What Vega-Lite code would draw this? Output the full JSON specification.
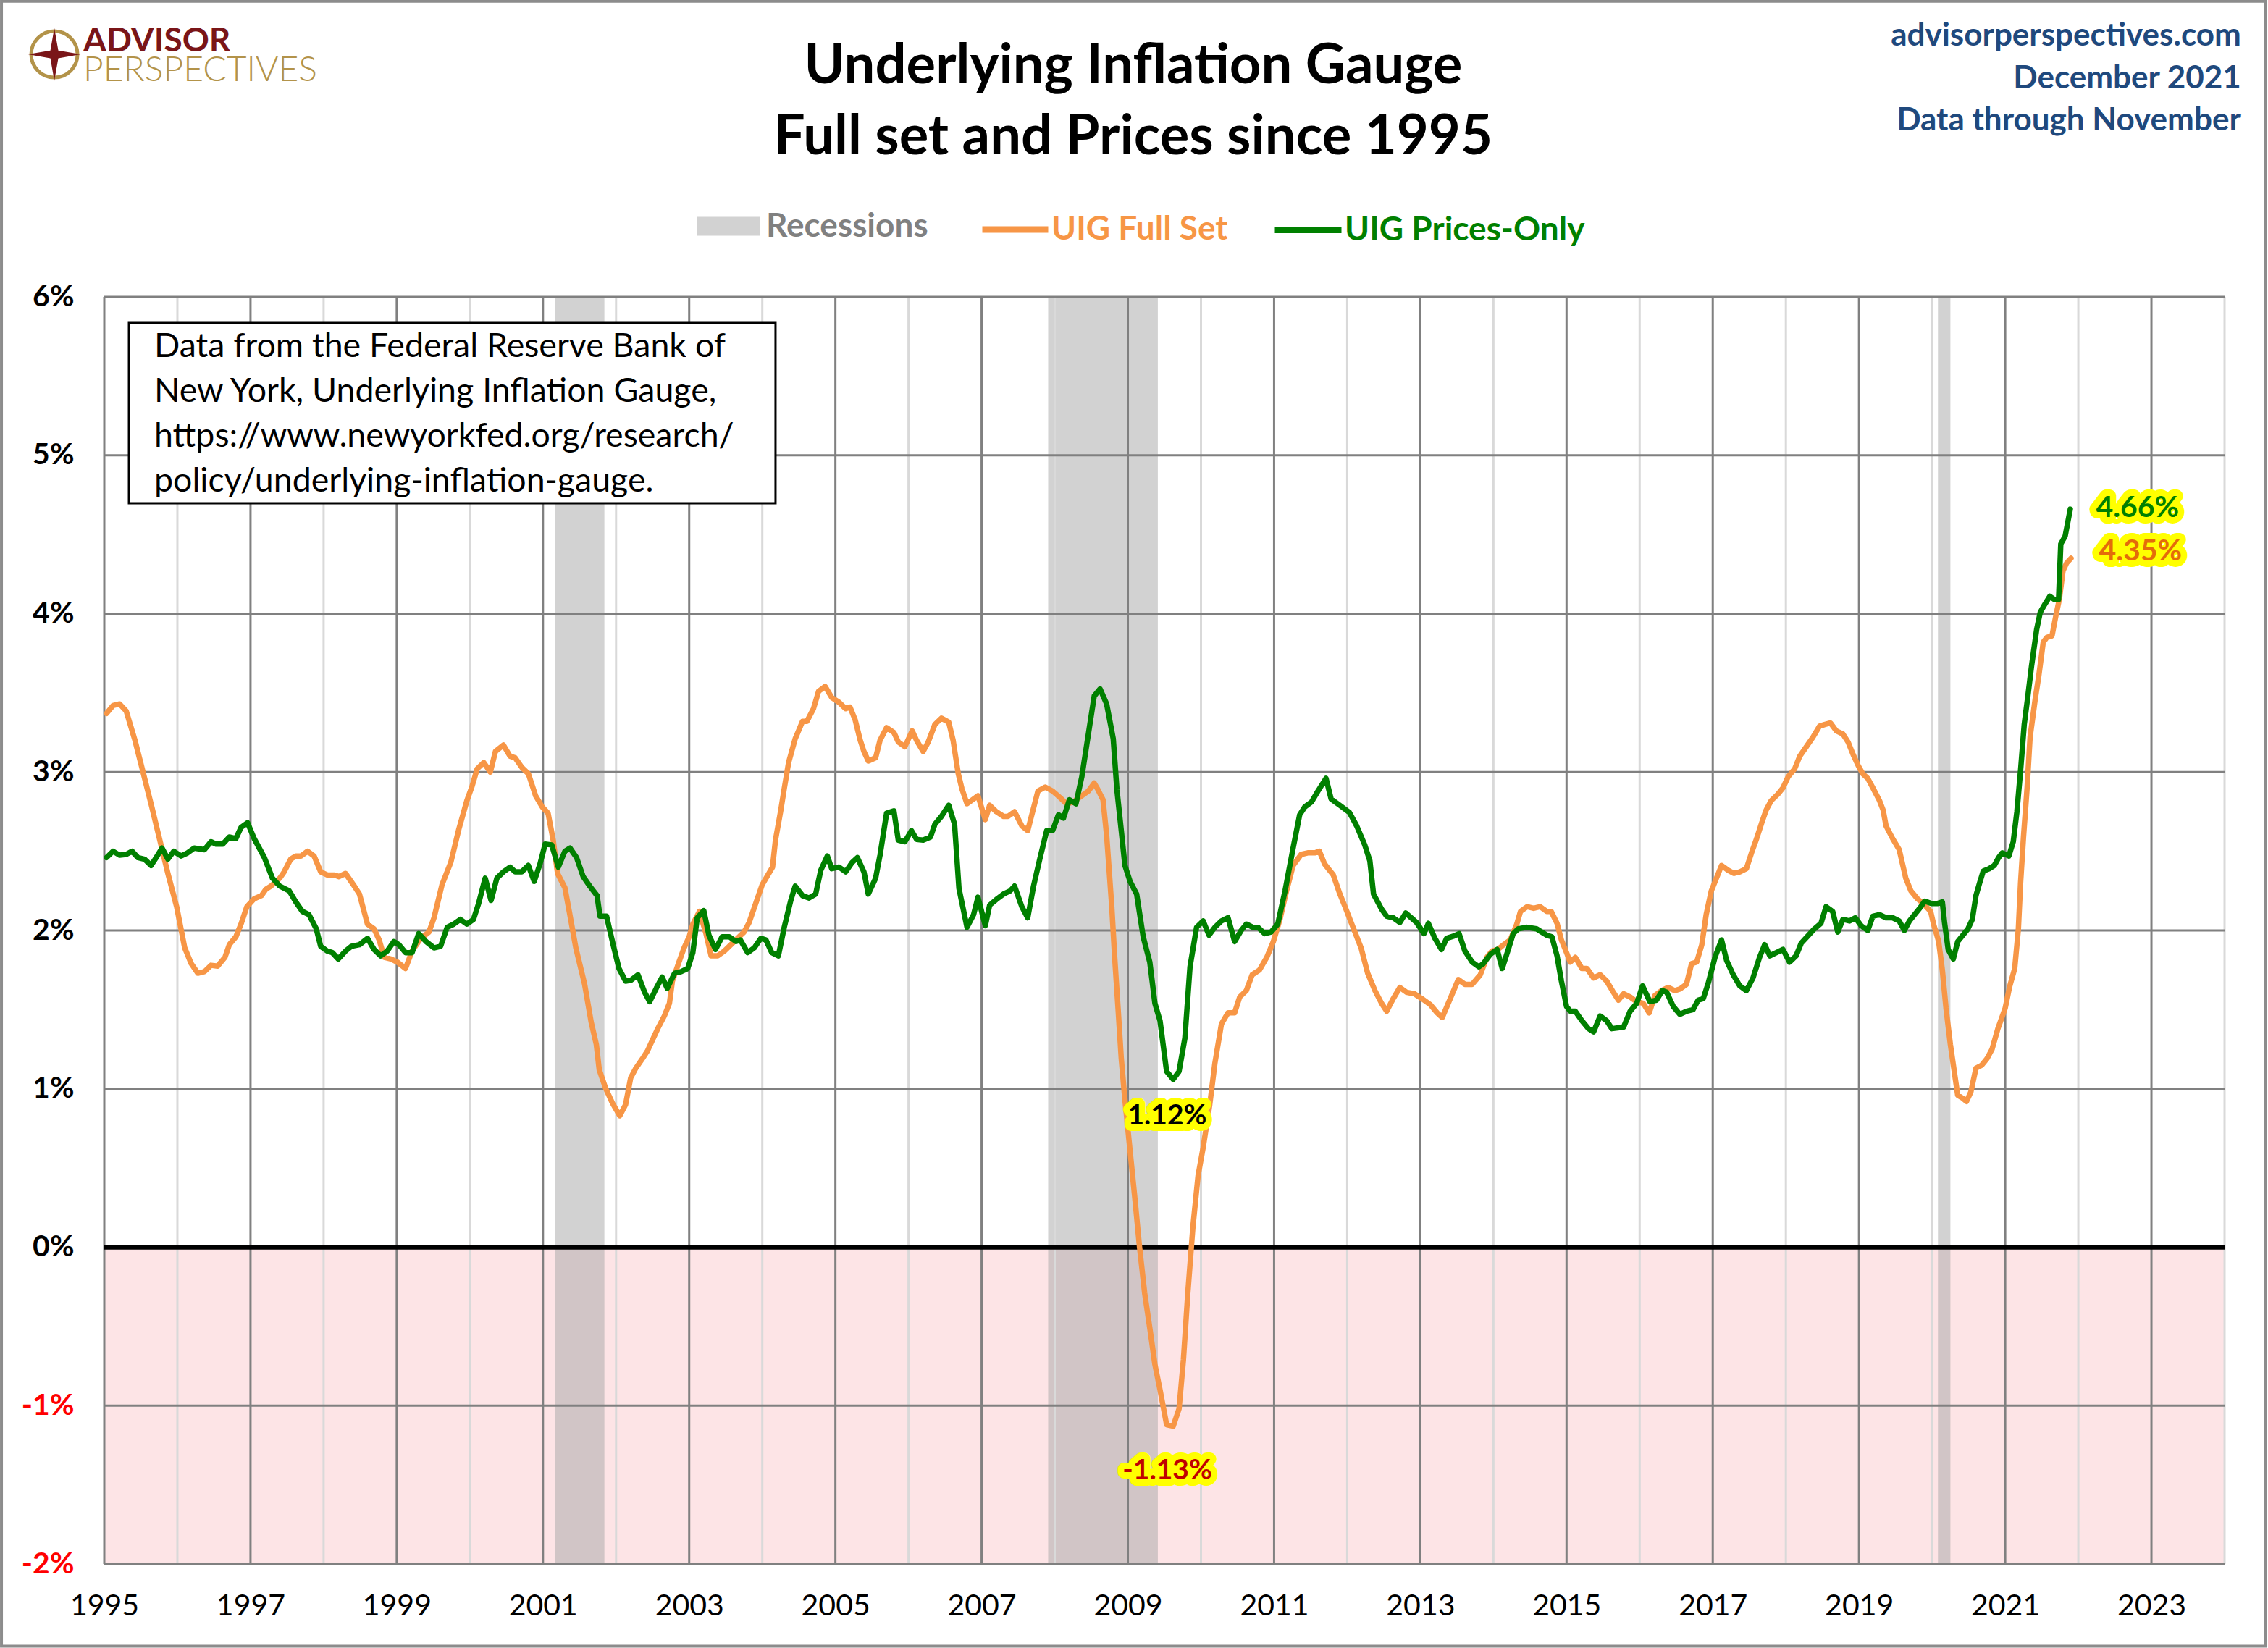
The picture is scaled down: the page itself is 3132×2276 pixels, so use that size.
{
  "$schema": "https://vega.github.io/schema/vega-lite/v6.json",
  "width": 2928,
  "height": 1750,
  "autosize": "none",
  "padding": {"left": 144, "top": 410, "right": 60, "bottom": 116},
  "background": "white",
  "config": {"view": {"stroke": null}, "font": "Lato"},
  "data": {"values": [{}]},
  "datasets": {
    "recessions": [
      {"start": 2001.17, "end": 2001.84},
      {"start": 2007.91, "end": 2009.41},
      {"start": 2020.08, "end": 2020.25}
    ],
    "gridYears": [
      {"year": 1995, "major": true}, {"year": 1996, "major": false}, {"year": 1997, "major": true}, {"year": 1998, "major": false},
      {"year": 1999, "major": true}, {"year": 2000, "major": false}, {"year": 2001, "major": true}, {"year": 2002, "major": false},
      {"year": 2003, "major": true}, {"year": 2004, "major": false}, {"year": 2005, "major": true}, {"year": 2006, "major": false},
      {"year": 2007, "major": true}, {"year": 2008, "major": false}, {"year": 2009, "major": true}, {"year": 2010, "major": false},
      {"year": 2011, "major": true}, {"year": 2012, "major": false}, {"year": 2013, "major": true}, {"year": 2014, "major": false},
      {"year": 2015, "major": true}, {"year": 2016, "major": false}, {"year": 2017, "major": true}, {"year": 2018, "major": false},
      {"year": 2019, "major": true}, {"year": 2020, "major": false}, {"year": 2021, "major": true}, {"year": 2022, "major": false},
      {"year": 2023, "major": true}, {"year": 2024, "major": false}
    ],
    "gridLevels": [
      {"level": -2}, {"level": -1}, {"level": 1}, {"level": 2}, {"level": 3}, {"level": 4}, {"level": 5}, {"level": 6}
    ],
    "fullSet": [
      {"year": 1995.03, "value": 3.37}, {"year": 1995.12, "value": 3.42}, {"year": 1995.21, "value": 3.43}, {"year": 1995.30, "value": 3.385},
      {"year": 1995.42, "value": 3.20}, {"year": 1995.53, "value": 3.00}, {"year": 1995.65, "value": 2.78}, {"year": 1995.76, "value": 2.57},
      {"year": 1995.87, "value": 2.36}, {"year": 1995.99, "value": 2.15}, {"year": 1996.10, "value": 1.89}, {"year": 1996.19, "value": 1.79},
      {"year": 1996.28, "value": 1.73}, {"year": 1996.37, "value": 1.74}, {"year": 1996.46, "value": 1.78}, {"year": 1996.55, "value": 1.775},
      {"year": 1996.65, "value": 1.83}, {"year": 1996.71, "value": 1.91}, {"year": 1996.80, "value": 1.96}, {"year": 1996.87, "value": 2.04},
      {"year": 1996.95, "value": 2.15}, {"year": 1997.05, "value": 2.20}, {"year": 1997.15, "value": 2.22}, {"year": 1997.21, "value": 2.26},
      {"year": 1997.28, "value": 2.28}, {"year": 1997.40, "value": 2.33}, {"year": 1997.46, "value": 2.37}, {"year": 1997.55, "value": 2.45},
      {"year": 1997.62, "value": 2.47}, {"year": 1997.69, "value": 2.47}, {"year": 1997.78, "value": 2.50}, {"year": 1997.87, "value": 2.47},
      {"year": 1997.96, "value": 2.37}, {"year": 1998.05, "value": 2.35}, {"year": 1998.15, "value": 2.35}, {"year": 1998.21, "value": 2.34},
      {"year": 1998.30, "value": 2.36}, {"year": 1998.42, "value": 2.28}, {"year": 1998.49, "value": 2.23}, {"year": 1998.60, "value": 2.04},
      {"year": 1998.69, "value": 2.01}, {"year": 1998.76, "value": 1.94}, {"year": 1998.83, "value": 1.83}, {"year": 1998.92, "value": 1.82},
      {"year": 1999.01, "value": 1.80}, {"year": 1999.12, "value": 1.76}, {"year": 1999.21, "value": 1.87}, {"year": 1999.33, "value": 1.95},
      {"year": 1999.44, "value": 1.99}, {"year": 1999.51, "value": 2.08}, {"year": 1999.62, "value": 2.29}, {"year": 1999.74, "value": 2.43},
      {"year": 1999.85, "value": 2.64}, {"year": 1999.96, "value": 2.82}, {"year": 2000.03, "value": 2.91}, {"year": 2000.10, "value": 3.02},
      {"year": 2000.19, "value": 3.06}, {"year": 2000.28, "value": 3.00}, {"year": 2000.35, "value": 3.13}, {"year": 2000.46, "value": 3.17},
      {"year": 2000.55, "value": 3.10}, {"year": 2000.62, "value": 3.09}, {"year": 2000.71, "value": 3.03}, {"year": 2000.80, "value": 2.99},
      {"year": 2000.90, "value": 2.85}, {"year": 2000.99, "value": 2.78}, {"year": 2001.07, "value": 2.74}, {"year": 2001.14, "value": 2.57},
      {"year": 2001.20, "value": 2.36}, {"year": 2001.30, "value": 2.27}, {"year": 2001.36, "value": 2.12}, {"year": 2001.45, "value": 1.89},
      {"year": 2001.57, "value": 1.66}, {"year": 2001.66, "value": 1.42}, {"year": 2001.73, "value": 1.28}, {"year": 2001.77, "value": 1.12},
      {"year": 2001.86, "value": 1.00}, {"year": 2001.95, "value": 0.91}, {"year": 2002.05, "value": 0.83}, {"year": 2002.13, "value": 0.90},
      {"year": 2002.20, "value": 1.07}, {"year": 2002.27, "value": 1.13}, {"year": 2002.36, "value": 1.19}, {"year": 2002.43, "value": 1.24},
      {"year": 2002.50, "value": 1.31}, {"year": 2002.57, "value": 1.38}, {"year": 2002.66, "value": 1.46}, {"year": 2002.73, "value": 1.54},
      {"year": 2002.77, "value": 1.68}, {"year": 2002.86, "value": 1.80}, {"year": 2002.93, "value": 1.89}, {"year": 2003.00, "value": 1.96},
      {"year": 2003.05, "value": 2.04}, {"year": 2003.14, "value": 2.12}, {"year": 2003.23, "value": 1.98}, {"year": 2003.30, "value": 1.84},
      {"year": 2003.39, "value": 1.84}, {"year": 2003.48, "value": 1.87}, {"year": 2003.57, "value": 1.91}, {"year": 2003.66, "value": 1.95},
      {"year": 2003.75, "value": 1.99}, {"year": 2003.82, "value": 2.05}, {"year": 2003.91, "value": 2.17}, {"year": 2004.00, "value": 2.29},
      {"year": 2004.14, "value": 2.40}, {"year": 2004.18, "value": 2.57}, {"year": 2004.25, "value": 2.75}, {"year": 2004.30, "value": 2.895},
      {"year": 2004.36, "value": 3.06}, {"year": 2004.45, "value": 3.21}, {"year": 2004.55, "value": 3.32}, {"year": 2004.61, "value": 3.32},
      {"year": 2004.70, "value": 3.40}, {"year": 2004.77, "value": 3.51}, {"year": 2004.86, "value": 3.54}, {"year": 2004.95, "value": 3.47},
      {"year": 2005.05, "value": 3.44}, {"year": 2005.14, "value": 3.40}, {"year": 2005.20, "value": 3.41}, {"year": 2005.27, "value": 3.33},
      {"year": 2005.34, "value": 3.20}, {"year": 2005.39, "value": 3.13}, {"year": 2005.45, "value": 3.07}, {"year": 2005.55, "value": 3.09},
      {"year": 2005.61, "value": 3.20}, {"year": 2005.70, "value": 3.28}, {"year": 2005.80, "value": 3.25}, {"year": 2005.86, "value": 3.19},
      {"year": 2005.95, "value": 3.16}, {"year": 2006.05, "value": 3.26}, {"year": 2006.11, "value": 3.20}, {"year": 2006.20, "value": 3.13},
      {"year": 2006.27, "value": 3.19}, {"year": 2006.36, "value": 3.30}, {"year": 2006.45, "value": 3.34}, {"year": 2006.55, "value": 3.315},
      {"year": 2006.61, "value": 3.20}, {"year": 2006.68, "value": 2.99}, {"year": 2006.73, "value": 2.895}, {"year": 2006.80, "value": 2.80},
      {"year": 2006.95, "value": 2.85}, {"year": 2007.05, "value": 2.70}, {"year": 2007.11, "value": 2.79}, {"year": 2007.20, "value": 2.75},
      {"year": 2007.30, "value": 2.72}, {"year": 2007.36, "value": 2.72}, {"year": 2007.45, "value": 2.75}, {"year": 2007.55, "value": 2.66},
      {"year": 2007.63, "value": 2.63}, {"year": 2007.70, "value": 2.755}, {"year": 2007.77, "value": 2.88}, {"year": 2007.87, "value": 2.905},
      {"year": 2007.97, "value": 2.88}, {"year": 2008.07, "value": 2.84}, {"year": 2008.16, "value": 2.80}, {"year": 2008.25, "value": 2.81},
      {"year": 2008.37, "value": 2.85}, {"year": 2008.46, "value": 2.88}, {"year": 2008.54, "value": 2.93}, {"year": 2008.59, "value": 2.89},
      {"year": 2008.66, "value": 2.825}, {"year": 2008.71, "value": 2.60}, {"year": 2008.78, "value": 2.15}, {"year": 2008.82, "value": 1.83},
      {"year": 2008.87, "value": 1.48}, {"year": 2008.91, "value": 1.19}, {"year": 2008.96, "value": 0.93}, {"year": 2009.03, "value": 0.61},
      {"year": 2009.10, "value": 0.29}, {"year": 2009.16, "value": 0.00}, {"year": 2009.23, "value": -0.29}, {"year": 2009.30, "value": -0.51},
      {"year": 2009.37, "value": -0.74}, {"year": 2009.44, "value": -0.90}, {"year": 2009.53, "value": -1.12}, {"year": 2009.62, "value": -1.13},
      {"year": 2009.70, "value": -1.02}, {"year": 2009.76, "value": -0.71}, {"year": 2009.82, "value": -0.29}, {"year": 2009.89, "value": 0.13},
      {"year": 2009.96, "value": 0.45}, {"year": 2010.03, "value": 0.63}, {"year": 2010.12, "value": 0.90}, {"year": 2010.19, "value": 1.16},
      {"year": 2010.28, "value": 1.41}, {"year": 2010.37, "value": 1.48}, {"year": 2010.46, "value": 1.48}, {"year": 2010.53, "value": 1.58},
      {"year": 2010.62, "value": 1.62}, {"year": 2010.70, "value": 1.72}, {"year": 2010.80, "value": 1.75}, {"year": 2010.90, "value": 1.83},
      {"year": 2010.99, "value": 1.93}, {"year": 2011.08, "value": 2.07}, {"year": 2011.17, "value": 2.25}, {"year": 2011.26, "value": 2.41},
      {"year": 2011.37, "value": 2.48}, {"year": 2011.46, "value": 2.49}, {"year": 2011.56, "value": 2.49}, {"year": 2011.62, "value": 2.50},
      {"year": 2011.69, "value": 2.42}, {"year": 2011.81, "value": 2.35}, {"year": 2011.90, "value": 2.23}, {"year": 2011.97, "value": 2.15},
      {"year": 2012.08, "value": 2.02}, {"year": 2012.19, "value": 1.89}, {"year": 2012.28, "value": 1.73}, {"year": 2012.38, "value": 1.62},
      {"year": 2012.47, "value": 1.54}, {"year": 2012.54, "value": 1.49}, {"year": 2012.63, "value": 1.57}, {"year": 2012.72, "value": 1.64},
      {"year": 2012.81, "value": 1.61}, {"year": 2012.92, "value": 1.60}, {"year": 2013.02, "value": 1.57}, {"year": 2013.14, "value": 1.53},
      {"year": 2013.23, "value": 1.48}, {"year": 2013.30, "value": 1.45}, {"year": 2013.41, "value": 1.57}, {"year": 2013.52, "value": 1.69},
      {"year": 2013.61, "value": 1.66}, {"year": 2013.71, "value": 1.66}, {"year": 2013.82, "value": 1.72}, {"year": 2013.91, "value": 1.83},
      {"year": 2013.98, "value": 1.87}, {"year": 2014.06, "value": 1.88}, {"year": 2014.14, "value": 1.91}, {"year": 2014.23, "value": 1.94},
      {"year": 2014.32, "value": 2.04}, {"year": 2014.37, "value": 2.12}, {"year": 2014.46, "value": 2.15}, {"year": 2014.55, "value": 2.14},
      {"year": 2014.64, "value": 2.15}, {"year": 2014.73, "value": 2.12}, {"year": 2014.79, "value": 2.12}, {"year": 2014.87, "value": 2.045},
      {"year": 2014.93, "value": 1.94}, {"year": 2015.00, "value": 1.86}, {"year": 2015.05, "value": 1.80}, {"year": 2015.12, "value": 1.83},
      {"year": 2015.21, "value": 1.76}, {"year": 2015.28, "value": 1.76}, {"year": 2015.37, "value": 1.70}, {"year": 2015.46, "value": 1.72},
      {"year": 2015.55, "value": 1.68}, {"year": 2015.64, "value": 1.61}, {"year": 2015.71, "value": 1.56}, {"year": 2015.78, "value": 1.60},
      {"year": 2015.87, "value": 1.58}, {"year": 2015.96, "value": 1.55}, {"year": 2016.05, "value": 1.54}, {"year": 2016.13, "value": 1.48},
      {"year": 2016.21, "value": 1.59}, {"year": 2016.30, "value": 1.62}, {"year": 2016.39, "value": 1.64}, {"year": 2016.48, "value": 1.62},
      {"year": 2016.55, "value": 1.63}, {"year": 2016.64, "value": 1.66}, {"year": 2016.71, "value": 1.79}, {"year": 2016.78, "value": 1.80},
      {"year": 2016.85, "value": 1.91}, {"year": 2016.91, "value": 2.10}, {"year": 2016.98, "value": 2.25}, {"year": 2017.05, "value": 2.33},
      {"year": 2017.12, "value": 2.41}, {"year": 2017.21, "value": 2.38}, {"year": 2017.29, "value": 2.36}, {"year": 2017.37, "value": 2.37},
      {"year": 2017.46, "value": 2.39}, {"year": 2017.53, "value": 2.49}, {"year": 2017.60, "value": 2.58}, {"year": 2017.67, "value": 2.68},
      {"year": 2017.73, "value": 2.76}, {"year": 2017.80, "value": 2.82}, {"year": 2017.89, "value": 2.86}, {"year": 2017.96, "value": 2.90},
      {"year": 2018.03, "value": 2.97}, {"year": 2018.12, "value": 3.02}, {"year": 2018.19, "value": 3.10}, {"year": 2018.28, "value": 3.16},
      {"year": 2018.37, "value": 3.22}, {"year": 2018.46, "value": 3.29}, {"year": 2018.53, "value": 3.30}, {"year": 2018.61, "value": 3.31},
      {"year": 2018.69, "value": 3.26}, {"year": 2018.78, "value": 3.24}, {"year": 2018.85, "value": 3.19}, {"year": 2018.92, "value": 3.11},
      {"year": 2018.99, "value": 3.04}, {"year": 2019.05, "value": 2.99}, {"year": 2019.12, "value": 2.96}, {"year": 2019.19, "value": 2.90},
      {"year": 2019.28, "value": 2.82}, {"year": 2019.33, "value": 2.76}, {"year": 2019.37, "value": 2.66}, {"year": 2019.46, "value": 2.58},
      {"year": 2019.55, "value": 2.51}, {"year": 2019.60, "value": 2.41}, {"year": 2019.64, "value": 2.33}, {"year": 2019.71, "value": 2.25},
      {"year": 2019.80, "value": 2.20}, {"year": 2019.89, "value": 2.165}, {"year": 2019.98, "value": 2.12}, {"year": 2020.02, "value": 2.04},
      {"year": 2020.09, "value": 1.93}, {"year": 2020.14, "value": 1.75}, {"year": 2020.19, "value": 1.51}, {"year": 2020.25, "value": 1.28},
      {"year": 2020.30, "value": 1.12}, {"year": 2020.35, "value": 0.96}, {"year": 2020.42, "value": 0.94}, {"year": 2020.47, "value": 0.92},
      {"year": 2020.53, "value": 0.98}, {"year": 2020.60, "value": 1.13}, {"year": 2020.68, "value": 1.15}, {"year": 2020.75, "value": 1.19},
      {"year": 2020.82, "value": 1.25}, {"year": 2020.90, "value": 1.38}, {"year": 2021.00, "value": 1.51}, {"year": 2021.06, "value": 1.645},
      {"year": 2021.13, "value": 1.76}, {"year": 2021.18, "value": 2.01}, {"year": 2021.21, "value": 2.30}, {"year": 2021.25, "value": 2.59},
      {"year": 2021.30, "value": 2.905}, {"year": 2021.34, "value": 3.22}, {"year": 2021.41, "value": 3.46}, {"year": 2021.46, "value": 3.61},
      {"year": 2021.52, "value": 3.82}, {"year": 2021.57, "value": 3.85}, {"year": 2021.64, "value": 3.86}, {"year": 2021.69, "value": 3.98},
      {"year": 2021.74, "value": 4.09}, {"year": 2021.79, "value": 4.27}, {"year": 2021.84, "value": 4.32}, {"year": 2021.90, "value": 4.35}
    ],
    "pricesOnly": [
      {"year": 1995.03, "value": 2.46}, {"year": 1995.12, "value": 2.50}, {"year": 1995.21, "value": 2.475}, {"year": 1995.30, "value": 2.48},
      {"year": 1995.38, "value": 2.50}, {"year": 1995.46, "value": 2.46}, {"year": 1995.55, "value": 2.45}, {"year": 1995.64, "value": 2.41},
      {"year": 1995.71, "value": 2.46}, {"year": 1995.79, "value": 2.52}, {"year": 1995.87, "value": 2.45}, {"year": 1995.95, "value": 2.50},
      {"year": 1996.05, "value": 2.47}, {"year": 1996.14, "value": 2.49}, {"year": 1996.23, "value": 2.52}, {"year": 1996.37, "value": 2.51},
      {"year": 1996.46, "value": 2.56}, {"year": 1996.53, "value": 2.545}, {"year": 1996.62, "value": 2.545}, {"year": 1996.71, "value": 2.59},
      {"year": 1996.80, "value": 2.58}, {"year": 1996.87, "value": 2.65}, {"year": 1996.96, "value": 2.68}, {"year": 1997.05, "value": 2.58},
      {"year": 1997.19, "value": 2.46}, {"year": 1997.30, "value": 2.33}, {"year": 1997.40, "value": 2.28}, {"year": 1997.53, "value": 2.25},
      {"year": 1997.62, "value": 2.18}, {"year": 1997.71, "value": 2.12}, {"year": 1997.80, "value": 2.10}, {"year": 1997.90, "value": 2.01},
      {"year": 1997.96, "value": 1.90}, {"year": 1998.05, "value": 1.87}, {"year": 1998.12, "value": 1.86}, {"year": 1998.20, "value": 1.82},
      {"year": 1998.30, "value": 1.87}, {"year": 1998.38, "value": 1.90}, {"year": 1998.49, "value": 1.91}, {"year": 1998.60, "value": 1.95},
      {"year": 1998.69, "value": 1.88}, {"year": 1998.78, "value": 1.84}, {"year": 1998.87, "value": 1.87}, {"year": 1998.96, "value": 1.93},
      {"year": 1999.03, "value": 1.91}, {"year": 1999.12, "value": 1.86}, {"year": 1999.21, "value": 1.86}, {"year": 1999.30, "value": 1.98},
      {"year": 1999.40, "value": 1.93}, {"year": 1999.51, "value": 1.89}, {"year": 1999.60, "value": 1.90}, {"year": 1999.69, "value": 2.02},
      {"year": 1999.78, "value": 2.04}, {"year": 1999.87, "value": 2.07}, {"year": 1999.96, "value": 2.04}, {"year": 2000.05, "value": 2.07},
      {"year": 2000.12, "value": 2.17}, {"year": 2000.21, "value": 2.33}, {"year": 2000.29, "value": 2.19}, {"year": 2000.37, "value": 2.33},
      {"year": 2000.46, "value": 2.37}, {"year": 2000.55, "value": 2.40}, {"year": 2000.62, "value": 2.37}, {"year": 2000.71, "value": 2.37},
      {"year": 2000.80, "value": 2.41}, {"year": 2000.88, "value": 2.31}, {"year": 2000.96, "value": 2.42}, {"year": 2001.03, "value": 2.545},
      {"year": 2001.12, "value": 2.54}, {"year": 2001.21, "value": 2.40}, {"year": 2001.30, "value": 2.50}, {"year": 2001.37, "value": 2.52},
      {"year": 2001.46, "value": 2.46}, {"year": 2001.55, "value": 2.34}, {"year": 2001.64, "value": 2.28}, {"year": 2001.74, "value": 2.22},
      {"year": 2001.78, "value": 2.09}, {"year": 2001.87, "value": 2.09}, {"year": 2001.96, "value": 1.91}, {"year": 2002.04, "value": 1.76},
      {"year": 2002.13, "value": 1.68}, {"year": 2002.20, "value": 1.685}, {"year": 2002.30, "value": 1.72}, {"year": 2002.39, "value": 1.61},
      {"year": 2002.46, "value": 1.55}, {"year": 2002.55, "value": 1.635}, {"year": 2002.63, "value": 1.705}, {"year": 2002.70, "value": 1.635},
      {"year": 2002.80, "value": 1.73}, {"year": 2002.89, "value": 1.74}, {"year": 2002.98, "value": 1.76}, {"year": 2003.05, "value": 1.86},
      {"year": 2003.11, "value": 2.08}, {"year": 2003.20, "value": 2.125}, {"year": 2003.27, "value": 1.97}, {"year": 2003.36, "value": 1.88},
      {"year": 2003.45, "value": 1.96}, {"year": 2003.55, "value": 1.96}, {"year": 2003.64, "value": 1.93}, {"year": 2003.70, "value": 1.94},
      {"year": 2003.80, "value": 1.86}, {"year": 2003.89, "value": 1.89}, {"year": 2003.98, "value": 1.95}, {"year": 2004.05, "value": 1.94},
      {"year": 2004.13, "value": 1.86}, {"year": 2004.22, "value": 1.84}, {"year": 2004.30, "value": 2.02}, {"year": 2004.39, "value": 2.19},
      {"year": 2004.45, "value": 2.28}, {"year": 2004.55, "value": 2.22}, {"year": 2004.64, "value": 2.205}, {"year": 2004.73, "value": 2.23},
      {"year": 2004.80, "value": 2.38}, {"year": 2004.89, "value": 2.47}, {"year": 2004.95, "value": 2.39}, {"year": 2005.05, "value": 2.40},
      {"year": 2005.14, "value": 2.37}, {"year": 2005.23, "value": 2.43}, {"year": 2005.30, "value": 2.46}, {"year": 2005.39, "value": 2.37},
      {"year": 2005.45, "value": 2.23}, {"year": 2005.55, "value": 2.33}, {"year": 2005.61, "value": 2.475}, {"year": 2005.70, "value": 2.74},
      {"year": 2005.80, "value": 2.755}, {"year": 2005.86, "value": 2.57}, {"year": 2005.95, "value": 2.56}, {"year": 2006.04, "value": 2.63},
      {"year": 2006.11, "value": 2.575}, {"year": 2006.20, "value": 2.57}, {"year": 2006.30, "value": 2.59}, {"year": 2006.36, "value": 2.67},
      {"year": 2006.45, "value": 2.72}, {"year": 2006.55, "value": 2.79}, {"year": 2006.63, "value": 2.67}, {"year": 2006.69, "value": 2.265},
      {"year": 2006.80, "value": 2.02}, {"year": 2006.89, "value": 2.10}, {"year": 2006.95, "value": 2.21}, {"year": 2007.05, "value": 2.03},
      {"year": 2007.11, "value": 2.16}, {"year": 2007.20, "value": 2.195}, {"year": 2007.30, "value": 2.23}, {"year": 2007.39, "value": 2.25},
      {"year": 2007.45, "value": 2.28}, {"year": 2007.55, "value": 2.15}, {"year": 2007.63, "value": 2.08}, {"year": 2007.71, "value": 2.28},
      {"year": 2007.80, "value": 2.46}, {"year": 2007.89, "value": 2.63}, {"year": 2007.97, "value": 2.63}, {"year": 2008.05, "value": 2.73},
      {"year": 2008.12, "value": 2.71}, {"year": 2008.20, "value": 2.825}, {"year": 2008.29, "value": 2.80}, {"year": 2008.37, "value": 2.97},
      {"year": 2008.46, "value": 3.24}, {"year": 2008.54, "value": 3.48}, {"year": 2008.62, "value": 3.525}, {"year": 2008.71, "value": 3.43},
      {"year": 2008.80, "value": 3.21}, {"year": 2008.85, "value": 2.89}, {"year": 2008.91, "value": 2.63}, {"year": 2008.96, "value": 2.41},
      {"year": 2009.03, "value": 2.31}, {"year": 2009.12, "value": 2.23}, {"year": 2009.21, "value": 1.96}, {"year": 2009.30, "value": 1.80},
      {"year": 2009.37, "value": 1.54}, {"year": 2009.44, "value": 1.43}, {"year": 2009.53, "value": 1.11}, {"year": 2009.62, "value": 1.06},
      {"year": 2009.70, "value": 1.11}, {"year": 2009.78, "value": 1.32}, {"year": 2009.85, "value": 1.77}, {"year": 2009.94, "value": 2.02},
      {"year": 2010.03, "value": 2.06}, {"year": 2010.11, "value": 1.97}, {"year": 2010.19, "value": 2.02}, {"year": 2010.28, "value": 2.06},
      {"year": 2010.37, "value": 2.08}, {"year": 2010.46, "value": 1.93}, {"year": 2010.55, "value": 2.00}, {"year": 2010.62, "value": 2.04},
      {"year": 2010.71, "value": 2.02}, {"year": 2010.78, "value": 2.02}, {"year": 2010.87, "value": 1.98}, {"year": 2010.96, "value": 1.99},
      {"year": 2011.05, "value": 2.04}, {"year": 2011.15, "value": 2.25}, {"year": 2011.26, "value": 2.52}, {"year": 2011.35, "value": 2.73},
      {"year": 2011.42, "value": 2.78}, {"year": 2011.51, "value": 2.81}, {"year": 2011.60, "value": 2.88}, {"year": 2011.71, "value": 2.96},
      {"year": 2011.78, "value": 2.83}, {"year": 2011.90, "value": 2.79}, {"year": 2012.03, "value": 2.745}, {"year": 2012.13, "value": 2.66},
      {"year": 2012.24, "value": 2.54}, {"year": 2012.31, "value": 2.44}, {"year": 2012.36, "value": 2.23}, {"year": 2012.47, "value": 2.135},
      {"year": 2012.54, "value": 2.09}, {"year": 2012.63, "value": 2.08}, {"year": 2012.72, "value": 2.05}, {"year": 2012.80, "value": 2.11},
      {"year": 2012.90, "value": 2.07}, {"year": 2012.95, "value": 2.05}, {"year": 2013.05, "value": 1.98}, {"year": 2013.11, "value": 2.045},
      {"year": 2013.20, "value": 1.95}, {"year": 2013.29, "value": 1.88}, {"year": 2013.36, "value": 1.95}, {"year": 2013.46, "value": 1.965},
      {"year": 2013.53, "value": 1.98}, {"year": 2013.61, "value": 1.87}, {"year": 2013.71, "value": 1.80}, {"year": 2013.80, "value": 1.77},
      {"year": 2013.86, "value": 1.79}, {"year": 2013.96, "value": 1.85}, {"year": 2014.05, "value": 1.88}, {"year": 2014.12, "value": 1.76},
      {"year": 2014.21, "value": 1.89}, {"year": 2014.27, "value": 1.98}, {"year": 2014.34, "value": 2.01}, {"year": 2014.46, "value": 2.02},
      {"year": 2014.59, "value": 2.01}, {"year": 2014.66, "value": 1.99}, {"year": 2014.73, "value": 1.97}, {"year": 2014.80, "value": 1.96},
      {"year": 2014.87, "value": 1.84}, {"year": 2014.93, "value": 1.68}, {"year": 2015.00, "value": 1.52}, {"year": 2015.05, "value": 1.49},
      {"year": 2015.12, "value": 1.49}, {"year": 2015.21, "value": 1.43}, {"year": 2015.30, "value": 1.38}, {"year": 2015.37, "value": 1.36},
      {"year": 2015.46, "value": 1.46}, {"year": 2015.55, "value": 1.43}, {"year": 2015.62, "value": 1.38}, {"year": 2015.78, "value": 1.39},
      {"year": 2015.87, "value": 1.49}, {"year": 2015.96, "value": 1.54}, {"year": 2016.04, "value": 1.65}, {"year": 2016.14, "value": 1.55},
      {"year": 2016.23, "value": 1.56}, {"year": 2016.31, "value": 1.62}, {"year": 2016.37, "value": 1.61}, {"year": 2016.46, "value": 1.52},
      {"year": 2016.55, "value": 1.47}, {"year": 2016.64, "value": 1.49}, {"year": 2016.73, "value": 1.50}, {"year": 2016.80, "value": 1.56},
      {"year": 2016.87, "value": 1.57}, {"year": 2016.94, "value": 1.67}, {"year": 2017.03, "value": 1.83}, {"year": 2017.12, "value": 1.94},
      {"year": 2017.19, "value": 1.81}, {"year": 2017.28, "value": 1.72}, {"year": 2017.37, "value": 1.65}, {"year": 2017.46, "value": 1.62},
      {"year": 2017.55, "value": 1.70}, {"year": 2017.64, "value": 1.83}, {"year": 2017.71, "value": 1.91}, {"year": 2017.78, "value": 1.84},
      {"year": 2017.87, "value": 1.86}, {"year": 2017.96, "value": 1.88}, {"year": 2018.05, "value": 1.80}, {"year": 2018.14, "value": 1.84},
      {"year": 2018.21, "value": 1.92}, {"year": 2018.30, "value": 1.965}, {"year": 2018.39, "value": 2.01}, {"year": 2018.48, "value": 2.045},
      {"year": 2018.55, "value": 2.15}, {"year": 2018.64, "value": 2.12}, {"year": 2018.71, "value": 1.99}, {"year": 2018.78, "value": 2.07},
      {"year": 2018.87, "value": 2.06}, {"year": 2018.95, "value": 2.08}, {"year": 2019.03, "value": 2.03}, {"year": 2019.12, "value": 2.00},
      {"year": 2019.19, "value": 2.09}, {"year": 2019.28, "value": 2.10}, {"year": 2019.37, "value": 2.08}, {"year": 2019.46, "value": 2.08},
      {"year": 2019.55, "value": 2.06}, {"year": 2019.62, "value": 2.00}, {"year": 2019.69, "value": 2.06}, {"year": 2019.76, "value": 2.10},
      {"year": 2019.83, "value": 2.14}, {"year": 2019.90, "value": 2.185}, {"year": 2019.99, "value": 2.17}, {"year": 2020.07, "value": 2.17},
      {"year": 2020.14, "value": 2.18}, {"year": 2020.17, "value": 2.05}, {"year": 2020.22, "value": 1.88}, {"year": 2020.29, "value": 1.82},
      {"year": 2020.35, "value": 1.93}, {"year": 2020.42, "value": 1.97}, {"year": 2020.49, "value": 2.01}, {"year": 2020.55, "value": 2.07},
      {"year": 2020.60, "value": 2.22}, {"year": 2020.65, "value": 2.30}, {"year": 2020.70, "value": 2.375}, {"year": 2020.78, "value": 2.39},
      {"year": 2020.85, "value": 2.41}, {"year": 2020.91, "value": 2.46}, {"year": 2020.96, "value": 2.49}, {"year": 2021.05, "value": 2.47},
      {"year": 2021.11, "value": 2.56}, {"year": 2021.16, "value": 2.75}, {"year": 2021.21, "value": 3.01}, {"year": 2021.26, "value": 3.30},
      {"year": 2021.31, "value": 3.48}, {"year": 2021.36, "value": 3.67}, {"year": 2021.43, "value": 3.90}, {"year": 2021.48, "value": 4.01},
      {"year": 2021.53, "value": 4.05}, {"year": 2021.61, "value": 4.11}, {"year": 2021.67, "value": 4.09}, {"year": 2021.73, "value": 4.09},
      {"year": 2021.76, "value": 4.44}, {"year": 2021.82, "value": 4.49}, {"year": 2021.89, "value": 4.66}
    ]
  },
  "layer": [
    {
      "mark": {"type": "rect", "color": "#FDE4E6"},
      "encoding": {
        "y": {
          "datum": 0,
          "type": "quantitative",
          "scale": {"domain": [-2, 6], "nice": false, "zero": false},
          "axis": {
            "values": [-2, -1, 0, 1, 2, 3, 4, 5, 6],
            "labelExpr": "datum.value + '%'",
            "title": null,
            "grid": false,
            "ticks": false,
            "tickSize": 0,
            "domain": false,
            "labelFont": "Lato",
            "labelFontSize": 41,
            "labelFontWeight": "bold",
            "labelPadding": 42,
            "labelColor": {"condition": {"test": "datum.value < 0", "value": "#FF0000"}, "value": "black"}
          }
        },
        "y2": {"datum": -2}
      }
    },
    {
      "data": {"name": "recessions"},
      "mark": {"type": "rect", "opacity": 0.5},
      "encoding": {
        "x": {
          "field": "start",
          "type": "quantitative",
          "scale": {"domain": [1995, 2024], "nice": false, "zero": false},
          "axis": {
            "values": [1995, 1997, 1999, 2001, 2003, 2005, 2007, 2009, 2011, 2013, 2015, 2017, 2019, 2021, 2023],
            "format": "d",
            "title": null,
            "grid": false,
            "ticks": false,
            "tickSize": 0,
            "domain": false,
            "labelFlush": false,
            "labelOverlap": false,
            "labelFont": "Lato",
            "labelFontSize": 41,
            "labelColor": "black",
            "labelPadding": 38
          }
        },
        "x2": {"field": "end"},
        "color": {
          "datum": "Recessions",
          "type": "nominal",
          "scale": {"range": ["#A6A6A6"]},
          "legend": {
            "orient": "none", "legendX": 818, "legendY": -141, "title": null, "padding": 0,
            "symbolType": "M-1,-0.3H1V0.3H-1Z", "symbolSize": 7569, "symbolOpacity": 0.5, "symbolStrokeWidth": 0,
            "labelFont": "Lato", "labelFontSize": 46, "labelFontWeight": "bold", "labelColor": "#808080", "labelOffset": 9, "labelLimit": 600
          }
        }
      }
    },
    {
      "data": {"name": "gridYears"},
      "transform": [{"filter": "!datum.major"}],
      "mark": {"type": "rule", "color": "#D9D9D9", "strokeWidth": 3},
      "encoding": {
        "x": {"field": "year", "type": "quantitative", "scale": {"domain": [1995, 2024], "nice": false, "zero": false}}
      }
    },
    {
      "data": {"name": "gridYears"},
      "transform": [{"filter": "datum.major"}],
      "mark": {"type": "rule", "color": "#808080", "strokeWidth": 3},
      "encoding": {
        "x": {"field": "year", "type": "quantitative", "scale": {"domain": [1995, 2024], "nice": false, "zero": false}}
      }
    },
    {
      "data": {"name": "gridLevels"},
      "mark": {"type": "rule", "color": "#808080", "strokeWidth": 3},
      "encoding": {
        "y": {"field": "level", "type": "quantitative", "scale": {"domain": [-2, 6], "nice": false, "zero": false}}
      }
    },
    {
      "mark": {"type": "rule", "color": "black", "strokeWidth": 6.5},
      "encoding": {
        "y": {"datum": 0, "type": "quantitative", "scale": {"domain": [-2, 6], "nice": false, "zero": false}}
      }
    },
    {
      "mark": {"type": "rect", "fill": "white", "stroke": "black", "strokeWidth": 3},
      "encoding": {
        "x": {"datum": 1995.337, "type": "quantitative", "scale": {"domain": [1995, 2024], "nice": false, "zero": false}},
        "x2": {"datum": 2004.181},
        "y": {"datum": 5.835, "type": "quantitative", "scale": {"domain": [-2, 6], "nice": false, "zero": false}},
        "y2": {"datum": 4.697}
      }
    },
    {
      "mark": {
        "type": "text",
        "text": ["Data from the Federal Reserve Bank of", "New York, Underlying Inflation Gauge,", "https://www.newyorkfed.org/research/", "policy/underlying-inflation-gauge."],
        "align": "left", "baseline": "alphabetic", "font": "Lato", "fontSize": 46.5, "lineHeight": 62, "color": "black"
      },
      "encoding": {
        "x": {"datum": 1995.683, "type": "quantitative", "scale": {"domain": [1995, 2024], "nice": false, "zero": false}},
        "y": {"datum": 5.621, "type": "quantitative", "scale": {"domain": [-2, 6], "nice": false, "zero": false}}
      }
    },
    {
      "data": {"name": "fullSet"},
      "mark": {"type": "line", "strokeWidth": 7.5, "strokeJoin": "round", "strokeCap": "round"},
      "encoding": {
        "x": {"field": "year", "type": "quantitative", "scale": {"domain": [1995, 2024], "nice": false, "zero": false}},
        "y": {"field": "value", "type": "quantitative", "scale": {"domain": [-2, 6], "nice": false, "zero": false}},
        "color": {
          "datum": "UIG Full Set",
          "type": "nominal",
          "scale": {"range": ["#F79646"]},
          "legend": {
            "orient": "none", "legendX": 1208, "legendY": -143, "title": null, "padding": 0,
            "symbolType": "stroke", "symbolSize": 8281, "symbolStrokeWidth": 9,
            "labelFont": "Lato", "labelFontSize": 46, "labelFontWeight": "bold", "labelColor": "#F79646", "labelOffset": 0, "labelLimit": 600
          }
        }
      }
    },
    {
      "data": {"name": "pricesOnly"},
      "mark": {"type": "line", "strokeWidth": 7.5, "strokeJoin": "round", "strokeCap": "round"},
      "encoding": {
        "x": {"field": "year", "type": "quantitative", "scale": {"domain": [1995, 2024], "nice": false, "zero": false}},
        "y": {"field": "value", "type": "quantitative", "scale": {"domain": [-2, 6], "nice": false, "zero": false}},
        "color": {
          "datum": "UIG Prices-Only",
          "type": "nominal",
          "scale": {"range": ["#008000"]},
          "legend": {
            "orient": "none", "legendX": 1612, "legendY": -143, "title": null, "padding": 0,
            "symbolType": "stroke", "symbolSize": 8464, "symbolStrokeWidth": 9,
            "labelFont": "Lato", "labelFontSize": 46, "labelFontWeight": "bold", "labelColor": "#008000", "labelOffset": 0, "labelLimit": 600
          }
        }
      }
    },
    {
      "mark": {"type": "text", "text": "1.12%", "font": "Lato", "fontSize": 39, "fontWeight": "bold", "color": "#FFFF00", "stroke": "#FFFF00", "strokeWidth": 18, "strokeJoin": "round"},
      "encoding": {
        "x": {"datum": 2009.54, "type": "quantitative", "scale": {"domain": [1995, 2024], "nice": false, "zero": false}},
        "y": {"datum": 0.83, "type": "quantitative", "scale": {"domain": [-2, 6], "nice": false, "zero": false}}
      }
    },
    {
      "mark": {"type": "text", "text": "1.12%", "font": "Lato", "fontSize": 39, "fontWeight": "bold", "color": "black"},
      "encoding": {
        "x": {"datum": 2009.54, "type": "quantitative", "scale": {"domain": [1995, 2024], "nice": false, "zero": false}},
        "y": {"datum": 0.83, "type": "quantitative", "scale": {"domain": [-2, 6], "nice": false, "zero": false}}
      }
    },
    {
      "mark": {"type": "text", "text": "-1.13%", "font": "Lato", "fontSize": 39, "fontWeight": "bold", "color": "#FFFF00", "stroke": "#FFFF00", "strokeWidth": 18, "strokeJoin": "round"},
      "encoding": {
        "x": {"datum": 2009.54, "type": "quantitative", "scale": {"domain": [1995, 2024], "nice": false, "zero": false}},
        "y": {"datum": -1.41, "type": "quantitative", "scale": {"domain": [-2, 6], "nice": false, "zero": false}}
      }
    },
    {
      "mark": {"type": "text", "text": "-1.13%", "font": "Lato", "fontSize": 39, "fontWeight": "bold", "color": "#C00000"},
      "encoding": {
        "x": {"datum": 2009.54, "type": "quantitative", "scale": {"domain": [1995, 2024], "nice": false, "zero": false}},
        "y": {"datum": -1.41, "type": "quantitative", "scale": {"domain": [-2, 6], "nice": false, "zero": false}}
      }
    },
    {
      "mark": {"type": "text", "text": "4.66%", "font": "Lato", "fontSize": 41, "fontWeight": "bold", "color": "#FFFF00", "stroke": "#FFFF00", "strokeWidth": 18, "strokeJoin": "round"},
      "encoding": {
        "x": {"datum": 2022.81, "type": "quantitative", "scale": {"domain": [1995, 2024], "nice": false, "zero": false}},
        "y": {"datum": 4.665, "type": "quantitative", "scale": {"domain": [-2, 6], "nice": false, "zero": false}}
      }
    },
    {
      "mark": {"type": "text", "text": "4.66%", "font": "Lato", "fontSize": 41, "fontWeight": "bold", "color": "#008000"},
      "encoding": {
        "x": {"datum": 2022.81, "type": "quantitative", "scale": {"domain": [1995, 2024], "nice": false, "zero": false}},
        "y": {"datum": 4.665, "type": "quantitative", "scale": {"domain": [-2, 6], "nice": false, "zero": false}}
      }
    },
    {
      "mark": {"type": "text", "text": "4.35%", "font": "Lato", "fontSize": 41, "fontWeight": "bold", "color": "#FFFF00", "stroke": "#FFFF00", "strokeWidth": 18, "strokeJoin": "round"},
      "encoding": {
        "x": {"datum": 2022.85, "type": "quantitative", "scale": {"domain": [1995, 2024], "nice": false, "zero": false}},
        "y": {"datum": 4.39, "type": "quantitative", "scale": {"domain": [-2, 6], "nice": false, "zero": false}}
      }
    },
    {
      "mark": {"type": "text", "text": "4.35%", "font": "Lato", "fontSize": 41, "fontWeight": "bold", "color": "#E46C0A"},
      "encoding": {
        "x": {"datum": 2022.85, "type": "quantitative", "scale": {"domain": [1995, 2024], "nice": false, "zero": false}},
        "y": {"datum": 4.39, "type": "quantitative", "scale": {"domain": [-2, 6], "nice": false, "zero": false}}
      }
    },
    {
      "mark": {
        "type": "text",
        "text": ["Underlying Inflation Gauge", "Full set and Prices since 1995"],
        "align": "center", "baseline": "alphabetic", "font": "Lato", "fontSize": 76, "fontWeight": "bold", "lineHeight": 98, "color": "black"
      },
      "encoding": {
        "x": {"datum": 2009.073, "type": "quantitative", "scale": {"domain": [1995, 2024], "nice": false, "zero": false}},
        "y": {"datum": 7.349, "type": "quantitative", "scale": {"domain": [-2, 6], "nice": false, "zero": false}}
      }
    },
    {
      "mark": {
        "type": "text",
        "text": ["advisorperspectives.com", "December 2021", "Data through November"],
        "align": "right", "baseline": "alphabetic", "font": "Lato", "fontSize": 44, "fontWeight": "bold", "lineHeight": 58.5, "color": "#1F497D"
      },
      "encoding": {
        "x": {"datum": 2024.226, "type": "quantitative", "scale": {"domain": [1995, 2024], "nice": false, "zero": false}},
        "y": {"datum": 7.586, "type": "quantitative", "scale": {"domain": [-2, 6], "nice": false, "zero": false}}
      }
    },
    {
      "mark": {"type": "text", "text": "ADVISOR", "align": "left", "baseline": "alphabetic", "font": "Lato", "fontSize": 46, "fontWeight": "bold", "color": "#7A1518"},
      "encoding": {
        "x": {"datum": 1994.713, "type": "quantitative", "scale": {"domain": [1995, 2024], "nice": false, "zero": false}},
        "y": {"datum": 7.55, "type": "quantitative", "scale": {"domain": [-2, 6], "nice": false, "zero": false}}
      }
    },
    {
      "mark": {"type": "text", "text": "PERSPECTIVES", "align": "left", "baseline": "alphabetic", "font": "Lato", "fontSize": 48, "fontWeight": 300, "color": "#B39349"},
      "encoding": {
        "x": {"datum": 1994.713, "type": "quantitative", "scale": {"domain": [1995, 2024], "nice": false, "zero": false}},
        "y": {"datum": 7.362, "type": "quantitative", "scale": {"domain": [-2, 6], "nice": false, "zero": false}}
      }
    },
    {
      "mark": {"type": "point", "shape": "circle", "filled": false, "stroke": "#B39349", "strokeWidth": 5, "size": 4096, "opacity": 1},
      "encoding": {
        "x": {"datum": 1994.317, "type": "quantitative", "scale": {"domain": [1995, 2024], "nice": false, "zero": false}},
        "y": {"datum": 7.531, "type": "quantitative", "scale": {"domain": [-2, 6], "nice": false, "zero": false}}
      }
    },
    {
      "mark": {"type": "point", "shape": "M0,-1L0.15,-0.15L1,0L0.15,0.15L0,1L-0.15,0.15L-1,0L-0.15,-0.15Z", "filled": true, "color": "#7A1518", "size": 5300, "opacity": 1},
      "encoding": {
        "x": {"datum": 1994.317, "type": "quantitative", "scale": {"domain": [1995, 2024], "nice": false, "zero": false}},
        "y": {"datum": 7.531, "type": "quantitative", "scale": {"domain": [-2, 6], "nice": false, "zero": false}}
      }
    },
    {
      "mark": {"type": "rect", "fill": "white", "fillOpacity": 0, "stroke": "#8C8C8C", "strokeWidth": 4},
      "encoding": {
        "x": {"datum": 1993.594, "type": "quantitative", "scale": {"domain": [1995, 2024], "nice": false, "zero": false}},
        "x2": {"datum": 2024.563},
        "y": {"datum": 7.866, "type": "quantitative", "scale": {"domain": [-2, 6], "nice": false, "zero": false}},
        "y2": {"datum": -2.519}
      }
    }
  ],
  "resolve": {"scale": {"color": "independent"}}
}
